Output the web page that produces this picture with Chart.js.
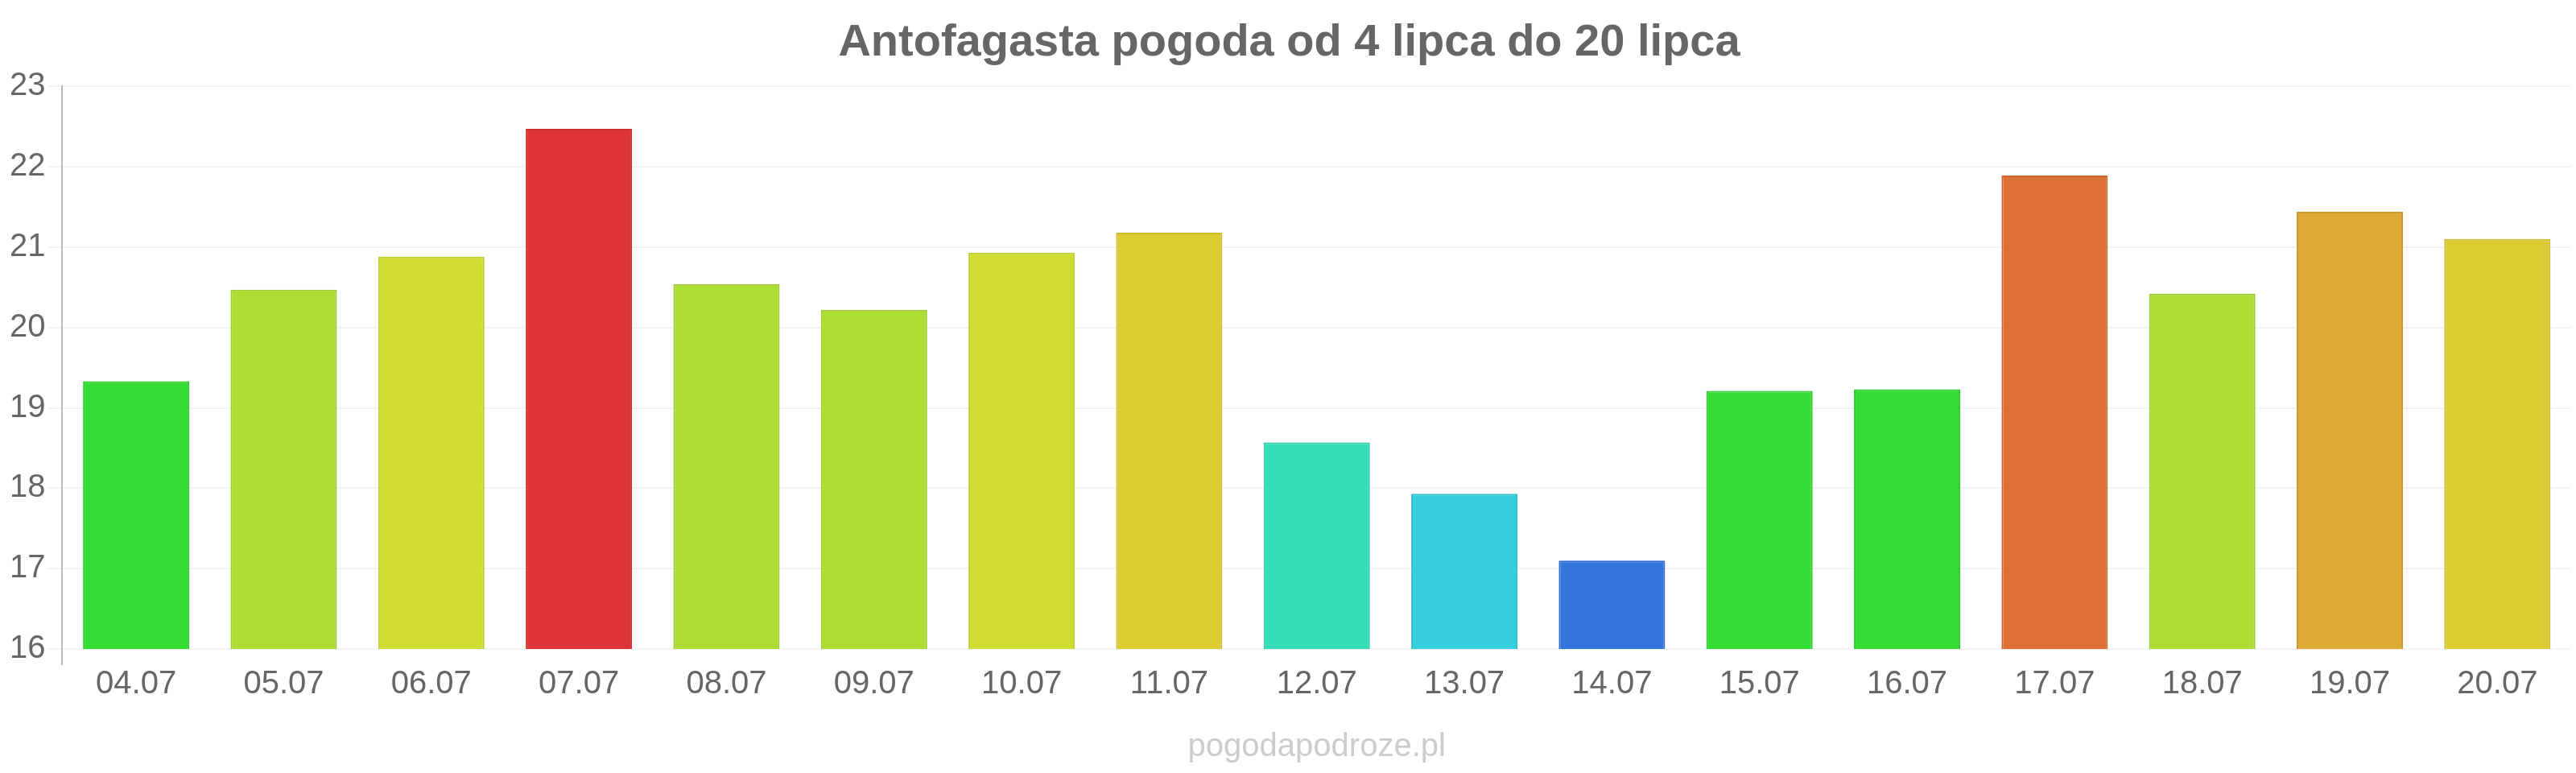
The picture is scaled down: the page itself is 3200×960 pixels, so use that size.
<!DOCTYPE html>
<html>
<head>
<meta charset="utf-8">
<script src="https://cdn.jsdelivr.net/npm/chart.js@4/dist/chart.umd.min.js"></script>
<style>
  body { margin: 0; background: #fff; }
  #weatherChart { display: block; }
</style>
</head>
<body>
<canvas id="weatherChart" width="3200" height="960"></canvas>
<script>
// days and temperatures
const days = ['04.07', '05.07', '06.07', '07.07', '08.07', '09.07', '10.07', '11.07', '12.07',
  '13.07', '14.07', '15.07', '16.07', '17.07', '18.07', '19.07', '20.07'];
const temps = [19.33, 20.47, 20.88, 22.47, 20.54, 20.22, 20.93, 21.18, 18.57,
  17.93, 17.1, 19.21, 19.23, 21.89, 20.42, 21.44, 21.1];
const barColors = ['#33dd33', '#addd33', '#d0dd33', '#dd3535', '#addd33', '#addd33', '#d0dd33', '#dccb33', '#35ddb8',
  '#35cedb', '#3575dc', '#33dd33', '#33dd33', '#dd7035', '#addd33', '#dcaa35', '#dccb33'];
const borderColors = ['#2ccc2c', '#9ccc2c', '#bfcc2c', '#cc2e2e', '#9ccc2c', '#9ccc2c', '#bfcc2c', '#ccbb2c', '#2eccaa',
  '#2ebdcb', '#2e68cc', '#2ccc2c', '#2ccc2c', '#cc642e', '#9ccc2c', '#c99a2e', '#ccbb2c'];
const chartTitle = 'Antofagasta pogoda od 4 lipca do 20 lipca';
const siteName = 'pogodapodroze.pl';

const fontFamily = '"Liberation Sans", Arial, sans-serif';

new Chart(document.getElementById('weatherChart').getContext('2d'), {
  type: 'bar',
  data: {
    labels: days,
    datasets: [{
      data: temps,
      backgroundColor: barColors,
      borderColor: borderColors,
      borderWidth: 2,
    }]
  },
  options: {
    responsive: false,
    animation: false,
    devicePixelRatio: 1,
    layout: { padding: { left: 9, right: 6, top: 0, bottom: 0 } },
    plugins: {
      legend: { display: false },
      tooltip: { enabled: false },
      title: {
        display: true,
        text: chartTitle,
        color: '#666',
        font: { family: fontFamily, size: 56, weight: 'bold' },
        padding: { top: 20, bottom: 20 },
      },
    },
    scales: {
      x: {
        grid: {
          drawOnChartArea: false,
          tickLength: 20,
          color: (ctx) => ctx.index === 0 ? '#bbb' : 'rgba(0,0,0,0)',
          lineWidth: 2,
        },
        border: { display: false },
        ticks: { color: '#666', font: { family: fontFamily, size: 40 }, padding: 0 },
        title: {
          display: true,
          text: siteName,
          color: '#ccc',
          font: { family: fontFamily, size: 40 },
          padding: { top: 30, bottom: 8 },
        },
      },
      y: {
        min: 16,
        max: 23,
        ticks: { stepSize: 1, color: '#666', font: { family: fontFamily, size: 40 }, padding: 3 },
        grid: { color: '#f4f4f4', lineWidth: 2, tickLength: 18 },
        border: { color: '#bbb', width: 2 },
      },
    },
  },
});
</script>
</body>
</html>
